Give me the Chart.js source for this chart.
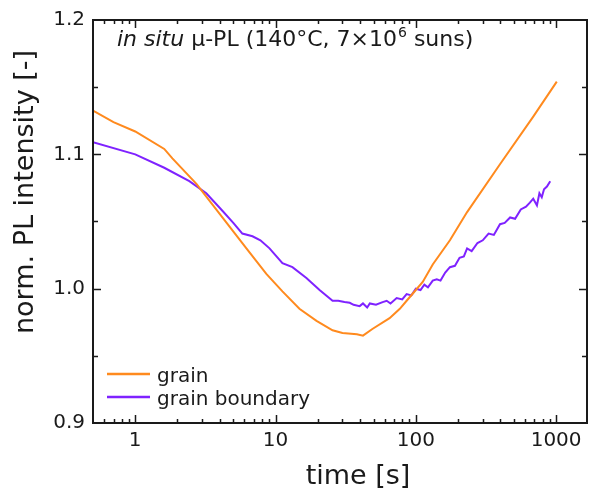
<!DOCTYPE html>
<html><head><meta charset="utf-8">
<script src="https://cdn.jsdelivr.net/npm/chart.js@4"></script>
<style>html,body{margin:0;padding:0;background:#fff}#wrap{width:592px;height:488px}</style>
</head><body><div id="wrap"><canvas id="c" width="592" height="488"></canvas></div>
<script>
const grainTime = [0.5, 0.7, 1.0, 1.61, 1.84, 2.73, 4.18, 6.2, 8.6, 11.2, 14.8, 19.6, 25.5, 30, 38, 42, 49, 65, 76.9, 86, 100, 112, 132, 175, 232, 398, 687, 1011];
const grainValues = [1.1326, 1.124, 1.117, 1.104, 1.097, 1.078, 1.053, 1.030, 1.011, 0.998, 0.985, 0.976, 0.969, 0.967, 0.966, 0.965, 0.970, 0.978, 0.985, 0.991, 0.999, 1.005, 1.018, 1.036, 1.057, 1.0926, 1.1281, 1.1541];
const boundaryTime = [0.5, 1.0, 1.61, 2.43, 3.21, 4.18, 5.0, 5.8, 6.85, 7.8, 9.06, 11.2, 13.2, 16.6, 20.6, 25.5, 28, 31, 33.8, 36, 39.8, 42, 45, 47, 52, 58, 62, 66, 73, 80, 86, 93, 100, 108, 115, 122, 132, 141, 150, 162, 175, 190, 205, 220, 232, 250, 275, 300, 330, 360, 398, 430, 470, 510, 560, 610, 650, 687, 730, 760, 790, 820, 860, 908];
const boundaryValues = [1.109, 1.100, 1.090, 1.080, 1.071, 1.058, 1.049, 1.041, 1.039, 1.036, 1.030, 1.019, 1.016, 1.008, 0.999, 0.991, 0.991, 0.990, 0.9895, 0.988, 0.987, 0.989, 0.986, 0.989, 0.988, 0.990, 0.991, 0.989, 0.993, 0.992, 0.996, 0.995, 1.000, 0.999, 1.003, 1.001, 1.006, 1.007, 1.006, 1.012, 1.016, 1.017, 1.023, 1.024, 1.030, 1.028, 1.034, 1.036, 1.041, 1.040, 1.048, 1.049, 1.053, 1.052, 1.059, 1.061, 1.064, 1.067, 1.062, 1.071, 1.068, 1.074, 1.076, 1.080];
const seriesLabels = ['grain', 'grain boundary'];
const seriesColors = ['#ff8a1e', '#7f22ff'];
const xTickValues = [1, 10, 100, 1000];
const yTickValues = [0.9, 1.0, 1.1, 1.2];
const xRange = [0.5, 1660];
const yRange = [0.9, 1.2];
const xTitle = 'time [s]';
const yTitle = 'norm. PL intensity [-]';

const FONT = 'DejaVu Sans';
const toPts = (t, v) => t.map((x, i) => ({x: x, y: v[i]}));

const framePlugin = {
  id: 'frame',
  afterDatasetsDraw(chart) {
    const {ctx, chartArea: a, scales: {x, y}} = chart;
    ctx.save();
    ctx.strokeStyle = '#1a1a1a';
    ctx.lineWidth = 1.5;
    ctx.beginPath();
    for (let d = -1; d <= 3; d++) {
      for (let k = 1; k <= 9; k++) {
        const v = k * Math.pow(10, d);
        if (v <= xRange[0] || v >= xRange[1]) continue;
        const px = Math.round(x.getPixelForValue(v)) + 0.5;
        const len = k === 1 ? 8 : 4;
        ctx.moveTo(px, a.bottom); ctx.lineTo(px, a.bottom - len);
        ctx.moveTo(px, a.top); ctx.lineTo(px, a.top + len);
      }
    }
    for (let v = yRange[0] + 0.05; v < yRange[1] - 0.001; v += 0.05) {
      const py = Math.round(y.getPixelForValue(v)) + 0.5;
      const major = Math.abs(Math.round(v * 10) - v * 10) < 0.001;
      const len = major ? 8 : 5;
      ctx.moveTo(a.left, py); ctx.lineTo(a.left + len, py);
      ctx.moveTo(a.right, py); ctx.lineTo(a.right - len, py);
    }
    ctx.stroke();
    ctx.lineWidth = 2;
    ctx.strokeRect(a.left, a.top, a.right - a.left, a.bottom - a.top);
    ctx.restore();
  },
  afterDraw(chart) {
    const {ctx, chartArea: a} = chart;
    ctx.save();
    ctx.fillStyle = '#1a1a1a';
    // axis titles
    ctx.font = '27px "' + FONT + '"';
    ctx.textAlign = 'center';
    ctx.textBaseline = 'alphabetic';
    ctx.fillText(xTitle, 358, 484);
    ctx.save();
    ctx.translate(33, 192);
    ctx.rotate(-Math.PI / 2);
    ctx.fillText(yTitle, 0, 0);
    ctx.restore();
    ctx.textAlign = 'left';
    // annotation
    let xx = a.left + 24;
    const yy = 46;
    ctx.font = 'italic 22px "' + FONT + '"';
    ctx.fillText('in situ', xx, yy); xx += ctx.measureText('in situ').width;
    ctx.font = '22px "' + FONT + '"';
    const s1 = ' \u03bc-PL (140\u00b0C, 7\u00d710';
    ctx.fillText(s1, xx, yy); xx += ctx.measureText(s1).width;
    ctx.font = '14px "' + FONT + '"';
    ctx.fillText('6', xx + 1, yy - 9); xx += ctx.measureText('6').width + 1;
    ctx.font = '22px "' + FONT + '"';
    ctx.fillText(' suns)', xx, yy);
    // legend
    ctx.font = '20px "' + FONT + '"';
    chart.data.datasets.forEach((ds, i) => {
      const ly = 374 + i * 23;
      ctx.strokeStyle = ds.borderColor;
      ctx.lineWidth = 2.5;
      ctx.beginPath(); ctx.moveTo(107, ly); ctx.lineTo(150, ly); ctx.stroke();
      ctx.fillStyle = '#1a1a1a';
      ctx.fillText(ds.label, 157, ly + 8);
    });
    ctx.restore();
  }
};

new Chart(document.getElementById('c'), {
  type: 'line',
  data: {
    datasets: [
      {label: seriesLabels[0], data: toPts(grainTime, grainValues), borderColor: seriesColors[0], borderWidth: 2, pointRadius: 0, tension: 0},
      {label: seriesLabels[1], data: toPts(boundaryTime, boundaryValues), borderColor: seriesColors[1], borderWidth: 2, pointRadius: 0, tension: 0}
    ]
  },
  options: {
    responsive: false,
    animation: false,
    devicePixelRatio: 1,
    layout: {padding: {top: 18, right: 5, left: 0, bottom: 0}},
    plugins: {legend: {display: false}, tooltip: {enabled: false}},
    scales: {
      x: {
        type: 'logarithmic', min: xRange[0], max: xRange[1],
        grid: {display: false, drawTicks: false},
        border: {display: false},
        afterBuildTicks: s => { s.ticks = xTickValues.map(v => ({value: v})); },
        afterFit: s => { s.height = 65; },
        ticks: {font: {family: FONT, size: 20}, color: '#1a1a1a', padding: 6, maxRotation: 0, autoSkip: false, callback: v => String(v)},
        title: {display: false}
      },
      y: {
        type: 'linear', min: yRange[0], max: yRange[1],
        grid: {display: false, drawTicks: false},
        border: {display: false},
        afterBuildTicks: s => { s.ticks = yTickValues.map(v => ({value: v})); },
        afterFit: s => { s.width = 93; },
        ticks: {font: {family: FONT, size: 20}, color: '#1a1a1a', padding: 8, callback: v => v.toFixed(1)},
        title: {display: false}
      }
    }
  },
  plugins: [framePlugin]
});
</script>
</body></html>
